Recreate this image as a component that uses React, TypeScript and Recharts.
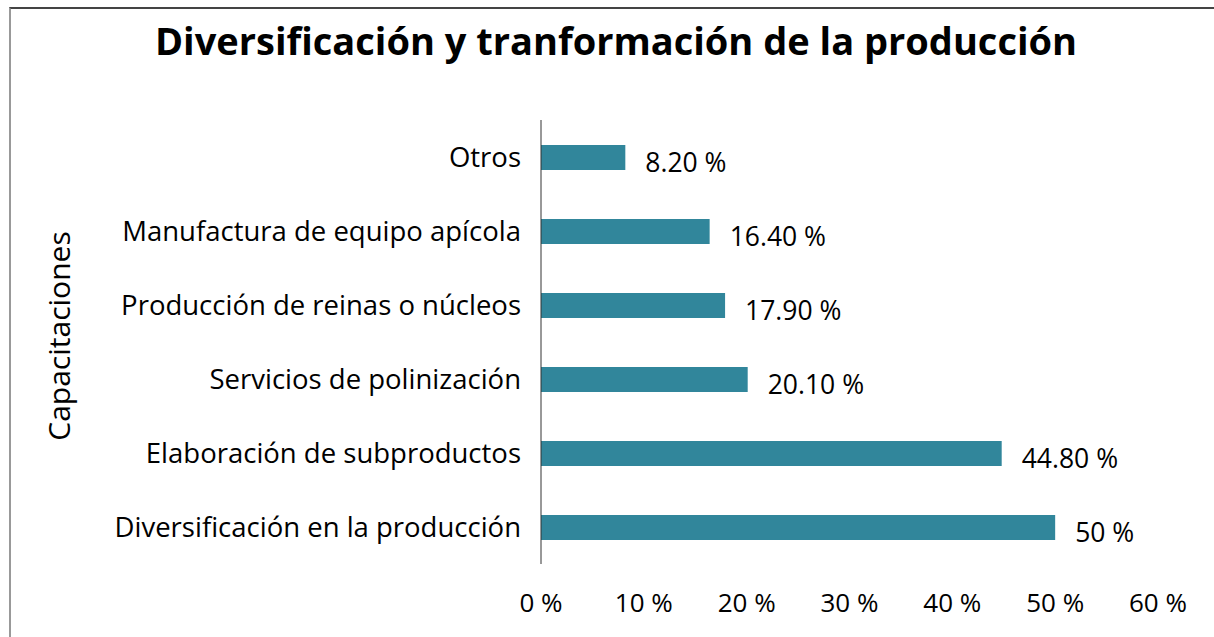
import React from 'react';
import { BarChart, Bar, XAxis, YAxis, LabelList } from 'recharts';

const categories = [
  'Otros',
  'Manufactura de equipo apícola',
  'Producción de reinas o núcleos',
  'Servicios de polinización',
  'Elaboración de subproductos',
  'Diversificación en la producción',
];
const values = [8.2, 16.4, 17.9, 20.1, 44.8, 50];
const valueLabels = ['8.20 %', '16.40 %', '17.90 %', '20.10 %', '44.80 %', '50 %'];
const xTicks = [0, 10, 20, 30, 40, 50, 60];
const yAxisTitle = 'Capacitaciones';

const data = categories.map((c, i) => ({ name: c, value: values[i], label: valueLabels[i] }));

const FONT = '"Open Sans", Lato, sans-serif';

const renderValueLabel = (props: any) => {
  const { x, y, width, height, index } = props;
  return (
    <text
      x={x + width + 20}
      y={y + height / 2 + 4}
      dominantBaseline="central"
      fontSize={26.5}
      fontFamily={FONT}
      fill="#000"
    >
      {valueLabels[index]}
    </text>
  );
};

const renderYTitle = (props: any) => {
  const vb = props.viewBox || {};
  const cx = 58;
  const cy = (vb.y ?? 120) + (vb.height ?? 444) / 2 - 6;
  return (
    <text
      x={cx}
      y={cy}
      transform={`rotate(-90, ${cx}, ${cy})`}
      textAnchor="middle"
      dominantBaseline="central"
      fontSize={30}
      fontFamily={FONT}
      fill="#000"
    >
      {yAxisTitle}
    </text>
  );
};

export default function App() {
  return (
    <div style={{ position: 'absolute', left: 0, top: 0, width: 1214, height: 637, background: '#fff' }}>
      <div
        style={{
          position: 'absolute',
          left: 9,
          top: 7,
          width: 1205,
          height: 630,
          borderTop: '2px solid #444',
          borderLeft: '2px solid #999',
          boxSizing: 'border-box',
        }}
      />
      <div
        style={{
          position: 'absolute',
          left: 0,
          top: 14,
          width: 1232,
          textAlign: 'center',
          fontFamily: FONT,
          fontWeight: 700,
          fontSize: 38,
          color: '#000',
        }}
      >
        Diversificación y tranformación de la producción
      </div>
      <div style={{ position: 'absolute', left: 0, top: 0 }}>
        <BarChart
          width={1214}
          height={637}
          data={data}
          layout="vertical"
          margin={{ top: 120, right: 56, bottom: 10, left: 0 }}
        >
          <XAxis
            type="number"
            domain={[0, 60]}
            ticks={xTicks}
            tickFormatter={(v: number) => `${v} %`}
            axisLine={false}
            tickLine={false}
            tickMargin={24}
            height={63}
            tick={{ fontSize: 26, fill: '#000', fontFamily: FONT }}
          />
          <YAxis
            type="category"
            dataKey="name"
            width={541}
            axisLine={{ stroke: '#333', strokeWidth: 1 }}
            tickLine={false}
            tickMargin={14}
            tick={{ fontSize: 27.5, fill: '#000', fontFamily: FONT }}
            label={{ value: yAxisTitle, content: renderYTitle }}
          />
          <Bar dataKey="value" fill="#31869B" barSize={25} isAnimationActive={false}>
            <LabelList dataKey="label" content={renderValueLabel} />
          </Bar>
        </BarChart>
      </div>
    </div>
  );
}
